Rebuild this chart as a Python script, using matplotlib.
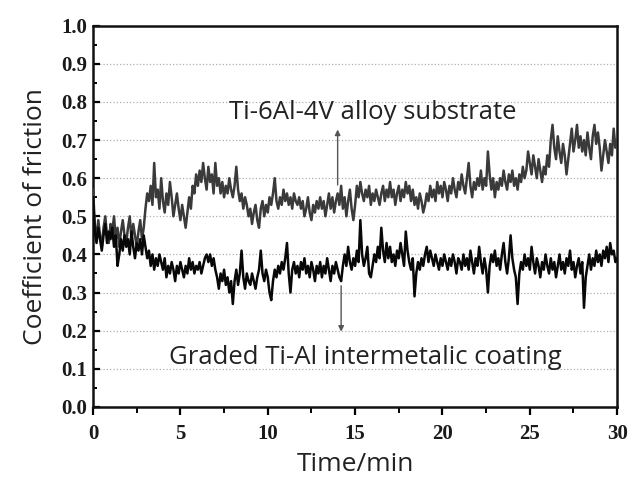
import numpy as np
import matplotlib
matplotlib.use("Agg")
import matplotlib.pyplot as plt
from matplotlib.ticker import MultipleLocator

substrate_cof = [
    0.57, 0.48, 0.44, 0.49, 0.45, 0.42, 0.47, 0.50, 0.45, 0.43,
    0.48, 0.46, 0.50, 0.44, 0.47, 0.42, 0.46, 0.49, 0.45, 0.43,
    0.47, 0.50, 0.44, 0.48, 0.45, 0.42, 0.46, 0.49, 0.44, 0.47,
    0.52, 0.56, 0.54, 0.58, 0.53, 0.64, 0.55, 0.57, 0.52, 0.60,
    0.54, 0.51, 0.56, 0.53, 0.59, 0.55, 0.50, 0.53, 0.56, 0.52,
    0.49, 0.53, 0.50, 0.47, 0.51, 0.55, 0.52, 0.58, 0.56, 0.61,
    0.58, 0.62, 0.59, 0.64, 0.60, 0.57, 0.63, 0.59, 0.61, 0.56,
    0.64, 0.58, 0.60, 0.56, 0.59, 0.55, 0.58, 0.56, 0.60, 0.57,
    0.55, 0.58, 0.63, 0.57, 0.54, 0.56, 0.52, 0.55, 0.53, 0.50,
    0.52, 0.48, 0.51, 0.53, 0.49, 0.47, 0.52, 0.54, 0.50, 0.53,
    0.51, 0.55, 0.53, 0.56, 0.60, 0.54, 0.52, 0.55, 0.53, 0.57,
    0.54, 0.56, 0.53, 0.55, 0.52, 0.56, 0.54, 0.53, 0.55, 0.52,
    0.54, 0.50, 0.52, 0.55, 0.51, 0.49, 0.53, 0.51, 0.54, 0.52,
    0.55, 0.52, 0.54, 0.50, 0.53, 0.56, 0.52, 0.55, 0.51, 0.54,
    0.56, 0.53, 0.58, 0.52, 0.55, 0.50, 0.54, 0.57, 0.52, 0.49,
    0.53, 0.58, 0.55, 0.59, 0.56, 0.54, 0.57, 0.55, 0.58, 0.53,
    0.56, 0.54, 0.57, 0.55, 0.53, 0.56, 0.58, 0.54, 0.57, 0.55,
    0.59, 0.55, 0.57, 0.53, 0.56, 0.58, 0.54, 0.57, 0.55, 0.59,
    0.56, 0.58, 0.54, 0.57, 0.53, 0.55, 0.52, 0.56, 0.54, 0.51,
    0.53, 0.56, 0.54, 0.58, 0.55, 0.57, 0.54, 0.59, 0.56, 0.58,
    0.55, 0.59, 0.57, 0.54, 0.58, 0.56, 0.60, 0.57, 0.55, 0.59,
    0.57, 0.61, 0.58, 0.56, 0.60, 0.64, 0.58, 0.55, 0.59, 0.57,
    0.60, 0.58, 0.62, 0.57, 0.60, 0.58, 0.67, 0.61, 0.57, 0.60,
    0.55, 0.59, 0.57, 0.60, 0.58, 0.62, 0.59, 0.57, 0.61, 0.59,
    0.62, 0.58, 0.60, 0.57, 0.61, 0.59, 0.63, 0.60, 0.62, 0.67,
    0.64, 0.61, 0.66, 0.63, 0.60, 0.65, 0.62, 0.59, 0.63, 0.61,
    0.66, 0.63, 0.70, 0.74, 0.68, 0.65, 0.71, 0.67, 0.64, 0.69,
    0.66, 0.61, 0.65, 0.69, 0.73, 0.67, 0.70, 0.74, 0.68, 0.71,
    0.67, 0.70, 0.66, 0.72, 0.68, 0.65, 0.71, 0.74, 0.69, 0.72,
    0.68, 0.62, 0.66, 0.70, 0.67, 0.64, 0.69, 0.66, 0.73, 0.68,
    0.70,
]

coating_cof = [
    0.55, 0.46, 0.43, 0.47, 0.44, 0.41, 0.45, 0.48, 0.43, 0.46,
    0.44, 0.47, 0.42, 0.45, 0.37, 0.40, 0.44, 0.41, 0.45, 0.42,
    0.44, 0.40, 0.46, 0.42, 0.39, 0.43, 0.41, 0.44, 0.40, 0.45,
    0.42, 0.39, 0.41, 0.37, 0.40, 0.36, 0.39, 0.37, 0.40, 0.38,
    0.36, 0.39, 0.34, 0.37, 0.35, 0.38, 0.36, 0.33, 0.37, 0.35,
    0.38, 0.36, 0.34, 0.37, 0.35, 0.39, 0.36, 0.38, 0.35, 0.37,
    0.36, 0.38, 0.35, 0.37, 0.39, 0.40, 0.38, 0.40, 0.37, 0.39,
    0.36, 0.34, 0.31, 0.35, 0.33, 0.36, 0.32, 0.34, 0.30, 0.33,
    0.27, 0.33, 0.36, 0.32, 0.35, 0.41, 0.34, 0.31, 0.35, 0.33,
    0.32, 0.35, 0.33, 0.31, 0.34, 0.36, 0.41, 0.35, 0.33, 0.36,
    0.34, 0.30, 0.28, 0.33, 0.36, 0.34, 0.37, 0.35, 0.38, 0.36,
    0.39, 0.43, 0.35, 0.30, 0.36, 0.38, 0.35, 0.37, 0.34, 0.38,
    0.36, 0.39, 0.35, 0.37, 0.34, 0.38, 0.36, 0.33, 0.37, 0.35,
    0.38, 0.34, 0.37, 0.35, 0.39, 0.36, 0.33, 0.37, 0.35, 0.38,
    0.36, 0.34, 0.33, 0.37, 0.40, 0.37, 0.42, 0.38, 0.36, 0.39,
    0.37, 0.41, 0.38, 0.49, 0.40, 0.37, 0.39, 0.42, 0.35, 0.34,
    0.37, 0.40, 0.38, 0.42, 0.39, 0.47, 0.41, 0.38, 0.43, 0.39,
    0.42, 0.38, 0.40, 0.37, 0.41, 0.39, 0.43, 0.40, 0.37, 0.46,
    0.41, 0.38, 0.36, 0.39, 0.29, 0.35, 0.38, 0.36, 0.39, 0.37,
    0.40, 0.42, 0.38, 0.41, 0.39, 0.37, 0.40, 0.38, 0.36, 0.39,
    0.37, 0.40, 0.38, 0.36, 0.39, 0.37, 0.40, 0.38, 0.35, 0.39,
    0.38, 0.36, 0.40, 0.37, 0.39, 0.36, 0.41, 0.38, 0.35, 0.39,
    0.37, 0.42, 0.38, 0.35, 0.39, 0.36, 0.30, 0.37, 0.40, 0.38,
    0.41, 0.37, 0.39, 0.36, 0.40, 0.43, 0.38, 0.35, 0.39, 0.45,
    0.39, 0.36, 0.34, 0.27, 0.35, 0.38, 0.36, 0.40, 0.37, 0.39,
    0.36, 0.42, 0.38, 0.35, 0.39, 0.37, 0.34, 0.38, 0.36, 0.40,
    0.37, 0.35, 0.39, 0.36, 0.38, 0.34, 0.37, 0.40, 0.36, 0.38,
    0.35, 0.39, 0.37, 0.41, 0.36, 0.38, 0.34, 0.37, 0.39, 0.35,
    0.38, 0.26, 0.34, 0.37, 0.40, 0.36, 0.39, 0.37, 0.41, 0.38,
    0.40, 0.37, 0.41, 0.39, 0.42, 0.38, 0.43, 0.40, 0.41, 0.38,
    0.39,
]

t_end = 30.0
time_min = np.linspace(0, t_end, len(substrate_cof))

substrate_label = "Ti-6Al-4V alloy substrate"
coating_label = "Graded Ti-Al intermetalic coating"

# ── Style ──
TICK_FONT = {"family": "Liberation Serif", "weight": "bold", "size": 15}
LABEL_FONT = {"family": "Open Sans", "size": 19}
NOTE_FONT = "Open Sans"

fig = plt.figure(figsize=(6.33, 4.95), dpi=100)
ax = fig.add_axes([0.147, 0.178, 0.828, 0.770])

ax.plot(time_min, substrate_cof, color="#3a3a3a", lw=1.8, zorder=3)
ax.plot(time_min, coating_cof, color="#080808", lw=1.8, zorder=4)

# arrows pointing from each curve to its label
ax.annotate("", xy=(14.0, 0.735), xytext=(14.0, 0.575),
            arrowprops=dict(arrowstyle="-|>", color="#555555", lw=1.0,
                            mutation_scale=8), zorder=5)
ax.annotate("", xy=(14.2, 0.19), xytext=(14.2, 0.325),
            arrowprops=dict(arrowstyle="-|>", color="#555555", lw=1.0,
                            mutation_scale=8), zorder=5)
ax.text(16.0, 0.772, substrate_label, ha="center", va="center",
        fontfamily=NOTE_FONT, fontsize=18.5, color="#222222")
ax.text(15.6, 0.13, coating_label, ha="center", va="center",
        fontfamily=NOTE_FONT, fontsize=18.5, color="#222222")

ax.set_xlim(0, 30)
ax.set_ylim(0, 1.0)
ax.xaxis.set_major_locator(MultipleLocator(5))
ax.xaxis.set_minor_locator(MultipleLocator(2.5))
ax.yaxis.set_major_locator(MultipleLocator(0.1))
ax.yaxis.set_minor_locator(MultipleLocator(0.05))
ax.yaxis.set_major_formatter(plt.FuncFormatter(lambda v, p: f"{v:.1f}"))

ax.yaxis.grid(True, which="major", linestyle=":", color="#b0b0b0", lw=0.9)
ax.set_axisbelow(True)

ax.tick_params(axis="x", which="major", direction="out", length=6, width=1.6, pad=6)
ax.tick_params(axis="x", which="minor", direction="out", length=4, width=1.4)
ax.tick_params(axis="y", which="major", direction="in", length=5, width=1.6, pad=4)
ax.tick_params(axis="y", which="minor", direction="in", length=3, width=1.4)
for lab in ax.get_xticklabels() + ax.get_yticklabels():
    lab.set_fontfamily(TICK_FONT["family"])
    lab.set_fontweight(TICK_FONT["weight"])
    lab.set_fontsize(TICK_FONT["size"])
    lab.set_color("#1a1a1a")

for spine in ax.spines.values():
    spine.set_linewidth(1.8)
    spine.set_color("#111111")

ax.set_xlabel("Time/min", fontdict=LABEL_FONT, color="#222222", labelpad=6)
ax.set_ylabel("Coefficient of friction", fontdict=LABEL_FONT, color="#222222", labelpad=10)

fig.savefig("out.png", dpi=100, facecolor="white")
